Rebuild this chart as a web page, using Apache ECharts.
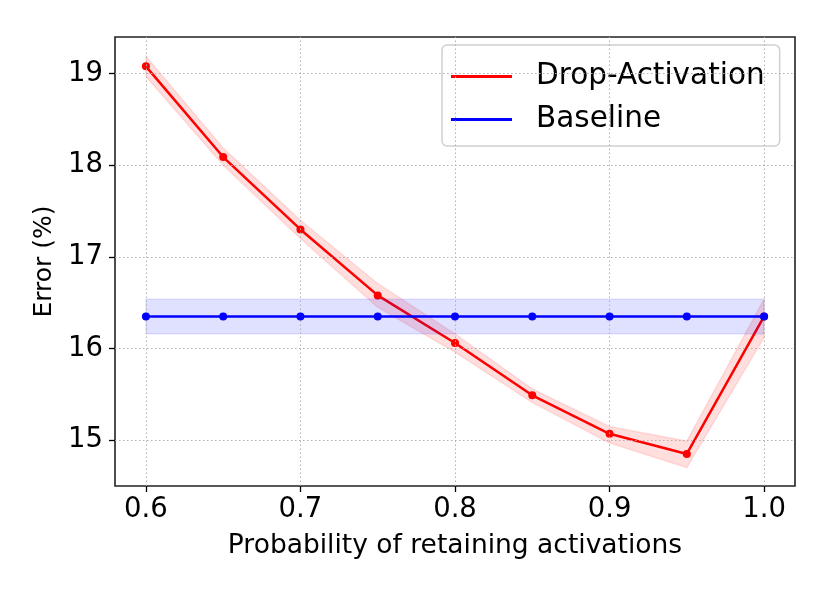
<!DOCTYPE html>
<html>
<head>
<meta charset="utf-8">
<script src="https://cdn.jsdelivr.net/npm/echarts@6/dist/echarts.min.js"></script>
<style>
  html, body { margin: 0; padding: 0; background: #fff; }
  #chart { width: 830px; height: 593px; }
</style>
</head>
<body>
<div id="chart"></div>
<script>
// 数据
var xValues = [0.6, 0.65, 0.7, 0.75, 0.8, 0.85, 0.9, 0.95, 1.0];
var dropAct = [19.08, 18.09, 17.30, 16.58, 16.06, 15.49, 15.07, 14.85, 16.35];
var dropLow = [18.97, 18.00, 17.20, 16.45, 15.96, 15.41, 14.97, 14.70, 16.12];
var dropHigh = [19.19, 18.19, 17.40, 16.71, 16.16, 15.56, 15.15, 14.99, 16.54];
var baseline = [16.35, 16.35, 16.35, 16.35, 16.35, 16.35, 16.35, 16.35, 16.35];
var baseLow = [16.16, 16.16, 16.16, 16.16, 16.16, 16.16, 16.16, 16.16, 16.16];
var baseHigh = [16.54, 16.54, 16.54, 16.54, 16.54, 16.54, 16.54, 16.54, 16.54];
var xTicks = [0.6, 0.7, 0.8, 0.9, 1.0];
var yTicks = [15, 16, 17, 18, 19];

function pairs(ys) {
  return xValues.map(function (x, i) { return [x, ys[i]]; });
}

/* 误差带: 用坐标轴换算成多边形 */
function bandSeries(name, lo, hi, fill, edge, z) {
  return {
    name: name, type: 'custom', silent: true, z: z,
    data: [0],
    renderItem: function (params, api) {
      var pts = [];
      for (var i = 0; i < xValues.length; i++) pts.push(api.coord([xValues[i], hi[i]]));
      for (var j = xValues.length - 1; j >= 0; j--) pts.push(api.coord([xValues[j], lo[j]]));
      return {
        type: 'polygon',
        shape: { points: pts },
        style: { fill: fill, stroke: edge, lineWidth: 1.5 }
      };
    }
  };
}

var font = 'DejaVu Sans';
var gridLine = { color: '#b0b0b0', width: 1, type: [1.5, 2.5] };

var myChart = echarts.init(document.getElementById('chart'));

var option = {
  animation: false,
  backgroundColor: '#fff',
  grid: {
    left: 115, right: 35, top: 37, bottom: 107,
    show: true, borderColor: '#222', borderWidth: 1.6, backgroundColor: 'transparent'
  },
  legend: {
    data: ['Drop-Activation', 'Baseline'],
    orient: 'vertical',
    left: 442, top: 45,
    padding: [16, 15, 11, 9],
    itemWidth: 61, itemHeight: 2.8, itemGap: 12,
    icon: 'rect',
    borderColor: '#d0d0d0', borderWidth: 1.5, borderRadius: 5,
    backgroundColor: 'rgba(255,255,255,0.8)',
    textStyle: { fontFamily: font, fontSize: 29.5, color: '#000', lineHeight: 31, padding: [0, 0, 0, 19] }
  },
  xAxis: {
    type: 'value', min: 0.58, max: 1.02,
    name: 'Probability of retaining activations',
    nameLocation: 'middle', nameGap: 47,
    nameTextStyle: { fontFamily: font, fontSize: 26.5, color: '#000' },
    axisLine: { show: false },
    axisTick: { show: true, customValues: xTicks, length: 6, lineStyle: { color: '#000', width: 1.3 } },
    axisLabel: {
      customValues: xTicks, margin: 10, fontFamily: font, fontSize: 27.5, color: '#000',
      formatter: function (v) { return v.toFixed(1); }
    },
    splitLine: { show: false }
  },
  yAxis: {
    type: 'value', min: 14.5, max: 19.4,
    name: 'Error (%)',
    nameLocation: 'middle', nameGap: 58,
    nameTextStyle: { fontFamily: font, fontSize: 25, color: '#000' },
    axisLine: { show: false },
    axisTick: { show: true, customValues: yTicks, length: 6, lineStyle: { color: '#000', width: 1.3 } },
    axisLabel: { customValues: yTicks, margin: 12, fontFamily: font, fontSize: 27.5, color: '#000' },
    splitLine: { show: false }
  },
  series: [
    {
      // 网格线
      name: 'grid', type: 'line', data: [], z: 1, silent: true,
      markLine: {
        silent: true, symbol: 'none', label: { show: false }, lineStyle: gridLine,
        data: xTicks.map(function (v) { return { xAxis: v }; })
          .concat(yTicks.map(function (v) { return { yAxis: v }; }))
      }
    },
    bandSeries('dropBand', dropLow, dropHigh, 'rgba(255,0,0,0.13)', 'rgba(255,0,0,0.10)', 2),
    {
      name: 'Drop-Activation', type: 'line', data: pairs(dropAct), z: 3,
      color: '#ff0000',
      symbol: 'circle', symbolSize: 8,
      lineStyle: { color: '#ff0000', width: 2.5 },
      itemStyle: { color: '#ff0000' }
    },
    bandSeries('baseBand', baseLow, baseHigh, 'rgba(0,0,255,0.12)', 'rgba(0,0,255,0.08)', 4),
    {
      name: 'Baseline', type: 'line', data: pairs(baseline), z: 5,
      color: '#0000ff',
      symbol: 'circle', symbolSize: 8,
      lineStyle: { color: '#0000ff', width: 2.5 },
      itemStyle: { color: '#0000ff' }
    }
  ]
};

myChart.setOption(option);
</script>
</body>
</html>
